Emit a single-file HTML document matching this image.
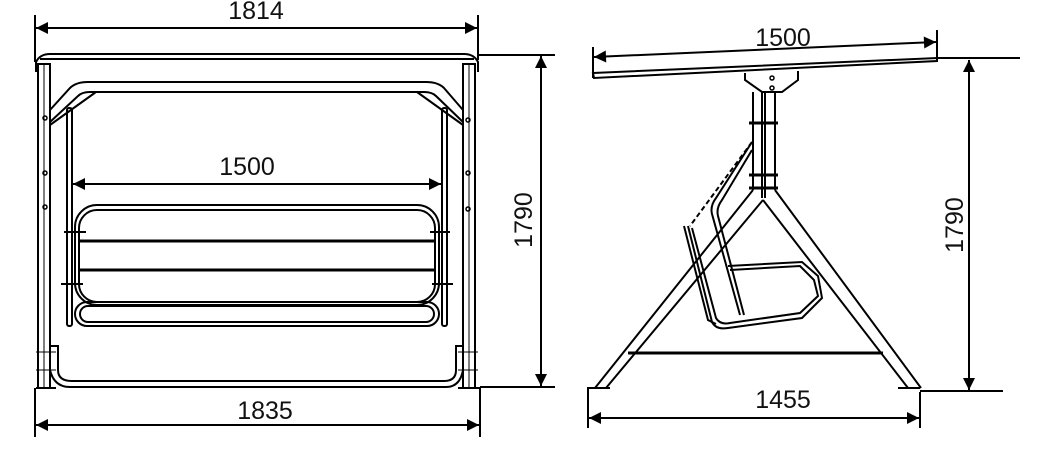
<!DOCTYPE html>
<html><head><meta charset="utf-8"><style>
html,body{margin:0;padding:0;background:#fff}
svg{display:block}
text{font-family:"Liberation Sans",sans-serif;font-size:25px;fill:#111}
</style></head><body>
<svg width="1052" height="456" viewBox="0 0 1052 456" xmlns="http://www.w3.org/2000/svg">
<defs>
<marker id="a" viewBox="0 0 10 10" refX="10" refY="5" markerWidth="22" markerHeight="12" markerUnits="userSpaceOnUse" orient="auto-start-reverse"><path d="M0,0L10,5L0,10z" fill="#000"/></marker>
</defs>
<g stroke="#000" fill="none" stroke-width="2">
<line x1="35" y1="15" x2="35" y2="62"/><line x1="478" y1="15" x2="478" y2="60"/>
<line x1="36" y1="28" x2="477" y2="28" marker-start="url(#a)" marker-end="url(#a)"/>
<line x1="35" y1="388" x2="35" y2="437"/><line x1="480" y1="388" x2="480" y2="437"/>
<line x1="36" y1="425" x2="479" y2="425" marker-start="url(#a)" marker-end="url(#a)"/>
<line x1="478" y1="55" x2="555" y2="55"/><line x1="480" y1="387" x2="555" y2="387"/>
<line x1="541" y1="56" x2="541" y2="386" marker-start="url(#a)" marker-end="url(#a)"/>
<line x1="73" y1="184" x2="441" y2="184" marker-start="url(#a)" marker-end="url(#a)"/>
<path d="M36,72 L36,62 Q40,54 50,54 L464,54 Q474,54 478,62 L478,72"/>
<line x1="40" y1="59" x2="474" y2="59"/>
<rect x="38" y="64" width="12" height="324"/><rect x="463" y="64" width="12" height="324"/>
<line x1="44" y1="64" x2="44" y2="388" stroke-width="1"/><line x1="469" y1="64" x2="469" y2="388" stroke-width="1"/>
<path d="M50,110 L70,88 Q76,82 88,82 L426,82 Q438,82 444,88 L463,110"/>
<path d="M50,122 L78,96 Q82,92 90,92 L424,92 Q432,92 436,96 L463,122"/>
<line x1="50" y1="125" x2="96" y2="92"/><line x1="463" y1="125" x2="417" y2="92"/>
<rect x="67" y="108" width="5" height="218" rx="2"/><rect x="442" y="108" width="5" height="218" rx="2"/>
<rect x="75" y="205" width="364" height="100" rx="22"/>
<rect x="79" y="210" width="356" height="92" rx="18"/>
<line x1="80" y1="241" x2="434" y2="241" stroke-width="3"/>
<line x1="80" y1="270" x2="434" y2="270" stroke-width="3"/>
<line x1="64" y1="232" x2="86" y2="232"/><line x1="61" y1="284" x2="83" y2="284"/>
<line x1="430" y1="232" x2="450" y2="232"/><line x1="432" y1="284" x2="453" y2="284"/>
<rect x="75" y="302" width="364" height="24" rx="12"/>
<rect x="80" y="306" width="354" height="16" rx="8"/>
<path d="M50,346 L58,346 L58,370 Q58,381 72,381 L444,381 Q456,381 456,370 L456,346 L463,346"/>
<path d="M50,370 Q54,387 70,387 L446,387 Q460,387 463,370"/>
<line x1="36" y1="388" x2="56" y2="388"/><line x1="458" y1="388" x2="480" y2="388"/>
<line x1="36" y1="352" x2="56" y2="352" stroke-width="1"/><line x1="36" y1="370" x2="56" y2="370" stroke-width="1"/>
<line x1="458" y1="352" x2="478" y2="352" stroke-width="1"/><line x1="458" y1="370" x2="478" y2="370" stroke-width="1"/>
<g stroke-width="1.5"><circle cx="45" cy="118" r="2"/><circle cx="45" cy="173" r="2"/><circle cx="45" cy="207" r="2"/><circle cx="468" cy="120" r="2"/><circle cx="468" cy="173" r="2"/><circle cx="468" cy="209" r="2"/></g>
<line x1="593" y1="47" x2="593" y2="78"/><line x1="937" y1="30" x2="937" y2="60"/>
<line x1="594" y1="57" x2="936" y2="42" marker-start="url(#a)" marker-end="url(#a)"/>
<path d="M593,73 L937,58 L937,61 L594,78 Z"/>
<path d="M745,73 L745,80 L762,92 L782,92 L798,80 L798,71"/>
<circle cx="772" cy="78" r="2" stroke-width="1.5"/><circle cx="772" cy="88" r="2" stroke-width="1.5"/>
<line x1="753" y1="92" x2="753" y2="190"/><line x1="762" y1="92" x2="762" y2="198"/>
<line x1="765" y1="92" x2="765" y2="198"/><line x1="775" y1="92" x2="775" y2="190"/>
<line x1="749" y1="123" x2="778" y2="123" stroke-width="3"/><line x1="749" y1="175" x2="778" y2="175" stroke-width="3"/><line x1="749" y1="188" x2="778" y2="188" stroke-width="3"/>
<path d="M753,190 L595,388 M763,200 L606,388"/>
<path d="M775,190 L921,388 M763,200 L908,388"/>
<line x1="628" y1="353" x2="883" y2="353" stroke-width="3"/>
<line x1="587" y1="388" x2="610" y2="388"/><line x1="898" y1="388" x2="920" y2="388"/>
<path d="M752,142 L716,198 Q710,206 712,214 L740,315"/>
<path d="M752,150 L722,200 Q716 208 718 216 L744,315"/>
<path d="M684,226 L708,320 L716,324"/>
<path d="M692,228 L716,318 Q720,325 730,323 L800,313 L818,296 L814,280 L800,266 L730,270"/>
<path d="M688,226 L712,322 Q716,330 728,328 L802,318 L822,298 L818,276 L802,262 L728,266"/>
<line x1="752" y1="142" x2="690" y2="226" stroke-dasharray="5,3"/>
<line x1="937" y1="58" x2="1020" y2="58"/><line x1="920" y1="391" x2="1003" y2="391"/>
<line x1="969" y1="60" x2="969" y2="390" marker-start="url(#a)" marker-end="url(#a)"/>
<line x1="588" y1="388" x2="588" y2="428"/><line x1="920" y1="392" x2="920" y2="428"/>
<line x1="589" y1="418" x2="919" y2="418" marker-start="url(#a)" marker-end="url(#a)"/>
</g>
<text x="256" y="19" text-anchor="middle">1814</text>
<text x="247" y="175" text-anchor="middle">1500</text>
<text x="265" y="419" text-anchor="middle">1835</text>
<text transform="translate(532,220) rotate(-90)" text-anchor="middle">1790</text>
<text x="783" y="46" text-anchor="middle">1500</text>
<text x="783" y="408" text-anchor="middle">1455</text>
<text transform="translate(963,225) rotate(-90)" text-anchor="middle">1790</text>
</svg>
</body></html>
